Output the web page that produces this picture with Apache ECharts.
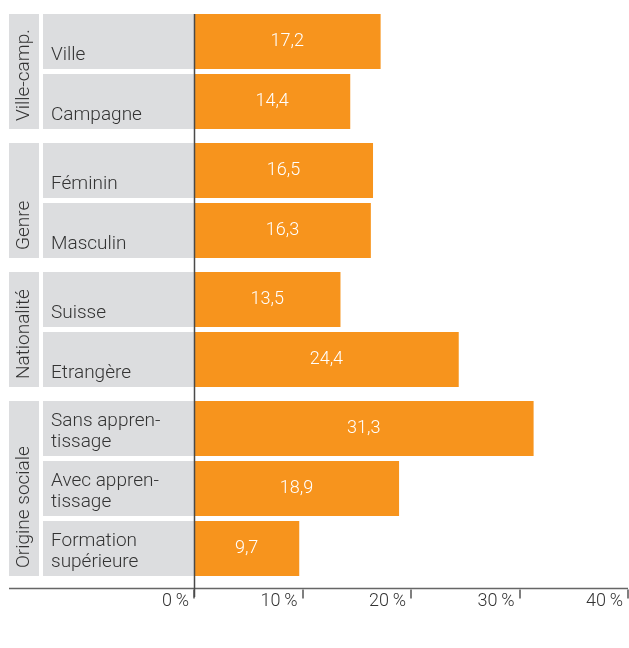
<!DOCTYPE html>
<html>
<head>
<meta charset="utf-8">
<script src="https://cdn.jsdelivr.net/npm/echarts@6/dist/echarts.min.js"></script>
<style>
  html, body { margin: 0; padding: 0; background: #fff; }
  #box { width: 629px; height: 648px; }
</style>
</head>
<body>
<div id="box"></div>
<script>
// data
var groups = ['Ville-camp.', 'Genre', 'Nationalité', 'Origine sociale']
var categories = [
    ['Ville', 'Campagne'],
    ['Féminin', 'Masculin'],
    ['Suisse', 'Etrangère'],
    ['Sans appren-\ntissage', 'Avec appren-\ntissage', 'Formation\nsupérieure']
]
var values = [
    [17.2, 14.4],
    [16.5, 16.3],
    [13.5, 24.4],
    [31.3, 18.9, 9.7]
]
var xTicks = [0, 10, 20, 30, 40]

var font = 'Roboto'
var textColor = '#333'
var orange = '#F7941D'
var grey = '#DCDDDF'

var Chart = echarts.init(document.getElementById('box'))

var grid = [], xAxis = [], yAxis = [], series = [], graphic = []
var gridTop = 11.5
var band = 60
for (let i = 0; i < groups.length; i++) {
    let n = categories[i].length
    let last = i === groups.length - 1
    grid.push({ left: 194, right: 1, top: gridTop, height: n * band })
    xAxis.push({
        gridIndex: i,
        type: 'value',
        min: xTicks[0],
        max: xTicks[xTicks.length - 1],
        interval: xTicks[1] - xTicks[0],
        show: last,
        offset: 11,
        splitLine: { show: false },
        axisLine: { show: false },
        axisTick: { show: true, length: 9, lineStyle: { color: '#555', width: 1.5 } },
        axisLabel: {
            fontFamily: font,
            fontSize: 18,
            fontWeight: 300,
            color: textColor,
            align: 'right',
            margin: 3,
            padding: [0, 5, 0, 0],
            formatter: '{value}\u2009%'
        }
    })
    yAxis.push({
        gridIndex: i,
        type: 'category',
        inverse: true,
        data: categories[i],
        axisLine: { show: false },
        axisTick: { show: false },
        axisLabel: {
            interval: 0,
            margin: 151,
            align: 'left',
            width: 145,
            padding: [3, 0, 3, 8],
            backgroundColor: grey,
            // a spacer line on top keeps the text at the bottom of the box
            formatter: function (v) {
                let lines = v.split('\n')
                let spacer = lines.length > 1 ? '{s2|}' : '{s1|}'
                return spacer + '\n' + lines.map(l => '{t|' + l + '}').join('\n')
            },
            rich: {
                s1: { lineHeight: 28, fontSize: 1 },
                s2: { lineHeight: 7, fontSize: 1 },
                t: {
                    fontFamily: font,
                    fontSize: 19,
                    fontWeight: 300,
                    color: textColor,
                    lineHeight: 21
                }
            }
        }
    })
    series.push({
        type: 'bar',
        xAxisIndex: i,
        yAxisIndex: i,
        barWidth: 55,
        itemStyle: { color: orange },
        label: {
            show: true,
            position: 'inside',
            color: '#fff',
            fontFamily: font,
            fontSize: 18,
            fontWeight: 300,
            formatter: function (p) {
                return String(p.value).replace('.', ',')
            }
        },
        data: values[i]
    })
    // group box on the far left
    let boxTop = gridTop + 2.5
    let boxH = n * band - 5
    graphic.push({
        type: 'rect',
        shape: { x: 9, y: boxTop, width: 30, height: boxH },
        style: { fill: grey },
        z: 1
    })
    graphic.push({
        type: 'text',
        x: 24.5,
        y: boxTop + boxH - 8,
        rotation: Math.PI / 2,
        style: {
            text: groups[i],
            fontFamily: font,
            fontSize: 19,
            fontWeight: 300,
            fill: textColor,
            align: 'left',
            verticalAlign: 'middle'
        },
        z: 2
    })
    gridTop += n * band + 9
}

// baseline and zero line
graphic.push({
    type: 'line',
    shape: { x1: 9, y1: 588.5, x2: 628, y2: 588.5 },
    style: { stroke: '#666', lineWidth: 1.5 },
    z: 100
})
graphic.push({
    type: 'line',
    shape: { x1: 194.5, y1: 14, x2: 194.5, y2: 597 },
    style: { stroke: '#4a4a4a', lineWidth: 1.5 },
    z: 100
})

var option = {
    animation: false,
    grid: grid,
    xAxis: xAxis,
    yAxis: yAxis,
    series: series,
    graphic: graphic
}
Chart.setOption(option)
</script>
</body>
</html>
